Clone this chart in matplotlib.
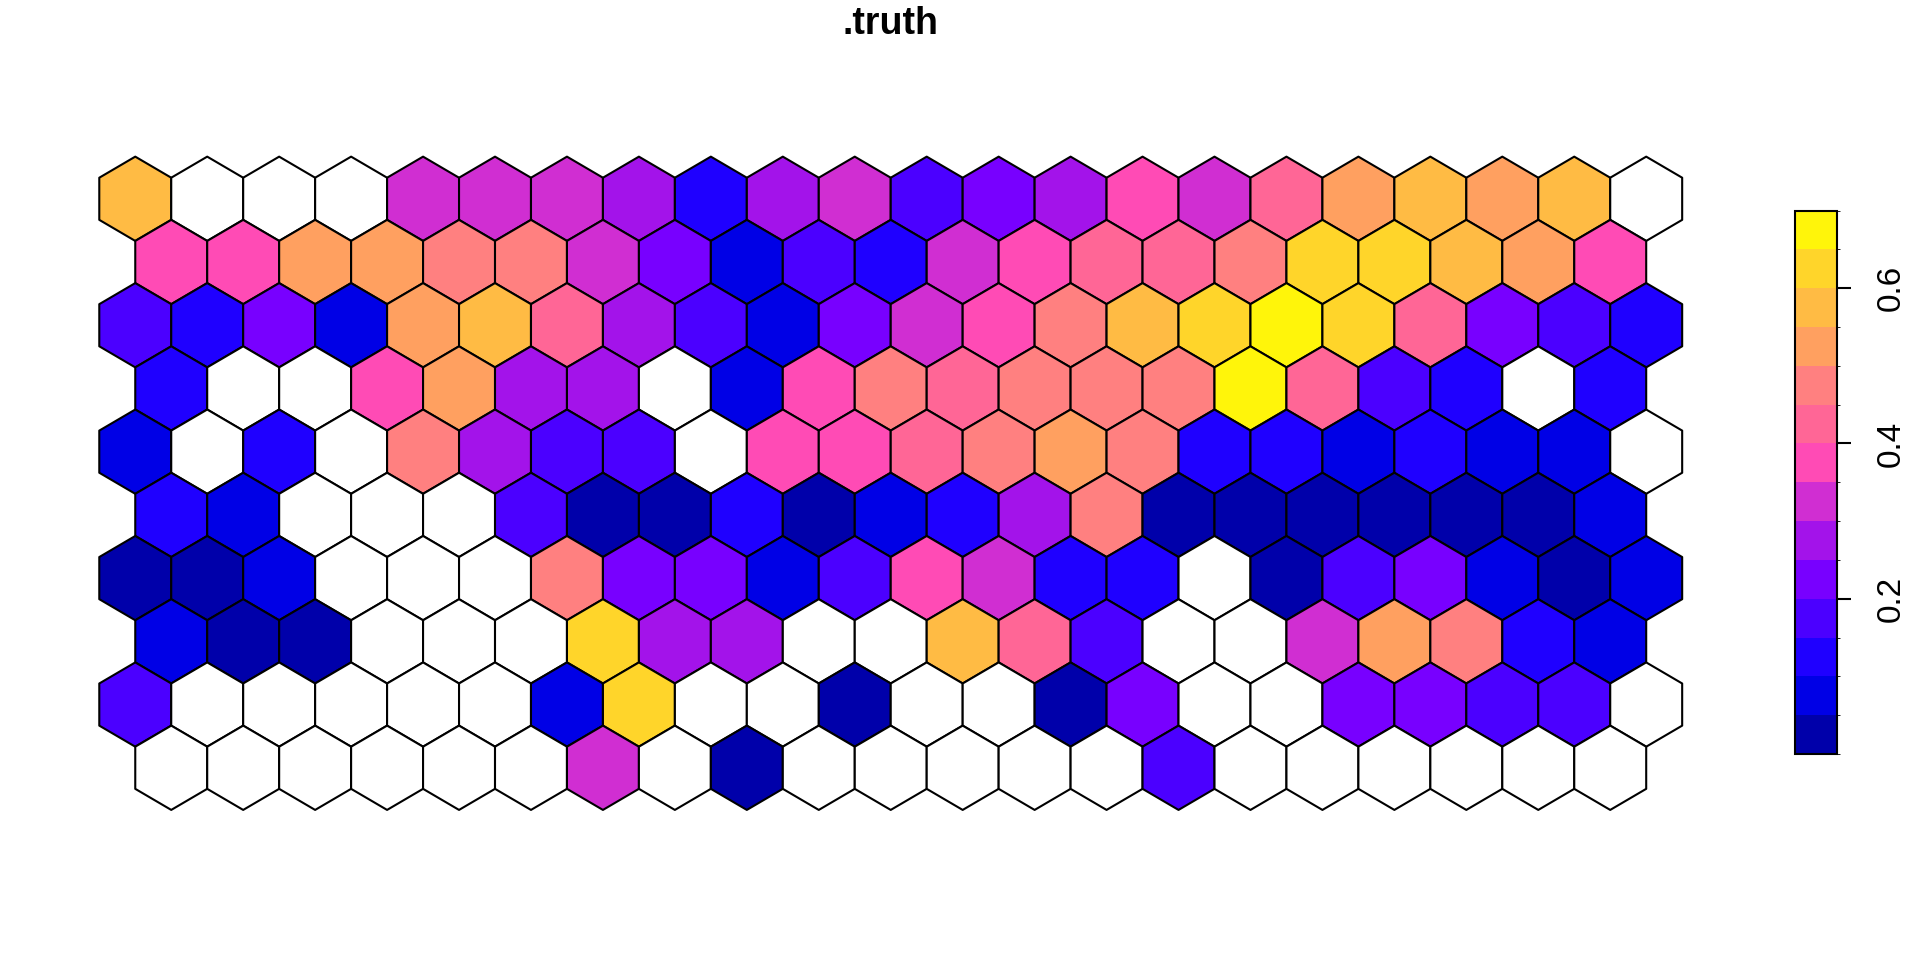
import numpy as np
import matplotlib
matplotlib.use("Agg")
import matplotlib.pyplot as plt
from matplotlib.collections import PolyCollection
from matplotlib.colors import ListedColormap, BoundaryNorm

plt.rcParams['font.family'] = ['Liberation Sans', 'DejaVu Sans']

N = None
# rows listed top to bottom; odd rows (2nd, 4th, ...) are shifted half a cell right
row01 = [0.57, N, N, N, 0.32, 0.33, 0.32, 0.28, 0.12, 0.28, 0.33, 0.17, 0.22, 0.28, 0.37, 0.33, 0.42, 0.52, 0.57, 0.53, 0.58, N]
row02 = [0.38, 0.37, 0.53, 0.52, 0.47, 0.48, 0.32, 0.23, 0.07, 0.17, 0.12, 0.32, 0.38, 0.43, 0.42, 0.47, 0.62, 0.63, 0.57, 0.52, 0.38]
row03 = [0.17, 0.12, 0.23, 0.07, 0.53, 0.57, 0.42, 0.28, 0.18, 0.07, 0.22, 0.33, 0.38, 0.47, 0.58, 0.62, 0.68, 0.63, 0.43, 0.22, 0.17, 0.12]
row04 = [0.12, N, N, 0.38, 0.52, 0.28, 0.27, N, 0.07, 0.37, 0.48, 0.42, 0.47, 0.48, 0.47, 0.69, 0.43, 0.17, 0.13, N, 0.12]
row05 = [0.07, N, 0.12, N, 0.47, 0.28, 0.18, 0.17, N, 0.38, 0.37, 0.43, 0.48, 0.52, 0.47, 0.12, 0.13, 0.07, 0.12, 0.08, 0.07, N]
row06 = [0.12, 0.07, N, N, N, 0.17, 0.03, 0.02, 0.12, 0.03, 0.07, 0.13, 0.28, 0.47, 0.02, 0.03, 0.02, 0.03, 0.02, 0.01, 0.07]
row07 = [0.02, 0.03, 0.07, N, N, N, 0.48, 0.23, 0.22, 0.07, 0.18, 0.37, 0.32, 0.12, 0.13, N, 0.02, 0.17, 0.22, 0.07, 0.02, 0.08]
row08 = [0.07, 0.02, 0.03, N, N, N, 0.63, 0.28, 0.27, N, N, 0.57, 0.43, 0.17, N, N, 0.33, 0.52, 0.47, 0.12, 0.07]
row09 = [0.17, N, N, N, N, N, 0.07, 0.62, N, N, 0.02, N, N, 0.03, 0.22, N, N, 0.23, 0.22, 0.18, 0.17, N]
row10 = [N, N, N, N, N, N, 0.32, N, 0.01, N, N, N, N, N, 0.17, N, N, N, N, N, N]
rows = [row01, row02, row03, row04, row05, row06, row07, row08, row09, row10]

pal = ["#0000AA", "#0000E6", "#1F00FF", "#4B00FF", "#7800FF", "#A313EA", "#D02ED2",
       "#FF4BB5", "#FF6696", "#FF8080", "#FFA060", "#FFBB44", "#FFD52A", "#FFF50A"]
bounds = np.linspace(0, 0.7, 15)

cmap = ListedColormap(pal)
cmap.set_bad("white")
norm = BoundaryNorm(bounds, cmap.N)

# hexagon centres
nrow = len(rows)
xs, ys, vals = [], [], []
for k, r in enumerate(rows):
    j = nrow - 1 - k
    shift = 0.5 if k % 2 == 1 else 0.0
    for i, v in enumerate(r):
        xs.append(i + shift)
        ys.append(j * np.sqrt(3) / 2)
        vals.append(np.nan if v is None else v)
xs = np.array(xs)
ys = np.array(ys)
vals = np.ma.masked_invalid(np.array(vals))

ang = np.deg2rad(90 + 60 * np.arange(6))
hx = np.cos(ang) / np.sqrt(3)
hy = np.sin(ang) / np.sqrt(3)
verts = [np.column_stack([x + hx, y + hy]) for x, y in zip(xs, ys)]

fig = plt.figure(figsize=(19.2, 9.6), dpi=100)
ax = fig.add_axes([0.04047, 0.1394, 0.8544, 0.7148])
pc = PolyCollection(verts, cmap=cmap, norm=norm, edgecolors="black", linewidths=1.5)
pc.set_array(vals)
ax.add_collection(pc)
ax.set_xlim(-0.8, 22)
ax.set_ylim(-0.8, 8.6)
ax.axis("off")

fig.text(0.464, 0.975, ".truth", ha="center", va="center", fontsize=27, fontweight="bold")

cax = fig.add_axes([0.9349, 0.2146, 0.0219, 0.566])
cb = fig.colorbar(pc, cax=cax, ticks=[0.2, 0.4, 0.6])
cb.outline.set_linewidth(1.5)
cb.outline.set_edgecolor("black")
cax.tick_params(length=10, width=1.5, labelsize=24, pad=18)
for t in cax.get_yticklabels():
    t.set_rotation(90)
    t.set_va("center")
cb.ax.set_yticklabels(["0.2", "0.4", "0.6"], rotation=90, va="center")

plt.savefig("out.png", dpi=100)
